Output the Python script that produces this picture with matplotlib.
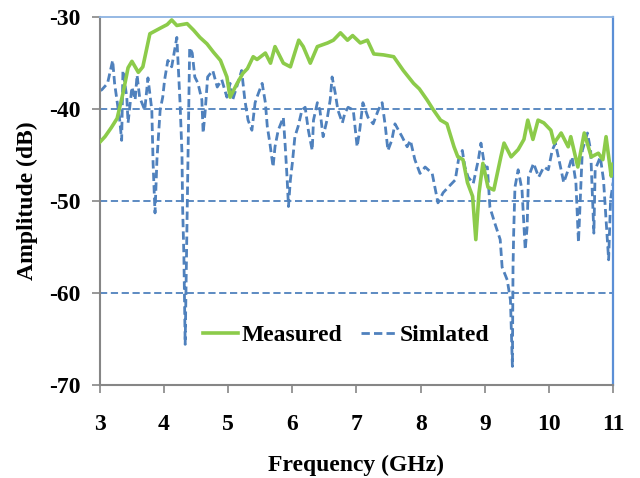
import matplotlib
matplotlib.use("Agg")
import matplotlib.pyplot as plt

# measured response (GHz, dB)
meas_f = [3.0, 3.08, 3.18, 3.27, 3.36, 3.44, 3.5, 3.6, 3.67, 3.78, 3.94, 4.05, 4.12,
          4.2, 4.36, 4.46, 4.56, 4.67, 4.77, 4.88, 4.98, 5.03, 5.14, 5.23, 5.3, 5.39,
          5.45, 5.58, 5.66, 5.73, 5.86, 5.97, 6.1, 6.17, 6.28, 6.39, 6.55, 6.64, 6.75,
          6.86, 6.94, 7.06, 7.17, 7.27, 7.42, 7.58, 7.73, 7.89, 7.98, 8.1, 8.2, 8.31,
          8.41, 8.52, 8.58, 8.66, 8.73, 8.81, 8.86, 8.91, 8.97, 9.05, 9.14, 9.25, 9.3,
          9.41, 9.52, 9.61, 9.67, 9.75, 9.83, 9.92, 10.03, 10.08, 10.19, 10.3, 10.34,
          10.45, 10.55, 10.66, 10.77, 10.84, 10.89, 10.97, 11.0]
meas_db = [-43.6, -43.0, -42.0, -41.0, -38.3, -35.5, -34.8, -36.0, -35.4, -31.8, -31.2,
           -30.8, -30.3, -30.9, -30.7, -31.4, -32.2, -32.9, -33.8, -34.7, -36.5, -38.7,
           -37.2, -36.1, -35.6, -34.3, -34.6, -33.9, -35.0, -33.2, -35.0, -35.4, -32.5,
           -33.2, -35.0, -33.2, -32.8, -32.5, -31.7, -32.5, -32.0, -32.8, -32.5, -34.0,
           -34.1, -34.3, -35.8, -37.2, -37.8, -39.0, -40.1, -41.2, -41.6, -44.1, -45.2,
           -45.5, -48.0, -49.5, -54.2, -49.1, -45.9, -48.5, -48.8, -45.2, -43.7, -45.2,
           -44.4, -43.3, -41.2, -43.3, -41.2, -41.5, -42.3, -43.7, -42.6, -44.1, -43.0,
           -46.3, -42.6, -45.2, -44.8, -45.5, -43.0, -47.3, -46.0]

# simulated response (GHz, dB)
sim_f = [3.0, 3.03, 3.12, 3.2, 3.23, 3.31, 3.34, 3.36, 3.42, 3.44, 3.5, 3.55, 3.58,
         3.62, 3.7, 3.75, 3.81, 3.83, 3.86, 3.89, 3.94, 3.98, 4.01, 4.06, 4.12, 4.2,
         4.22, 4.25, 4.28, 4.29, 4.31, 4.33, 4.36, 4.4, 4.44, 4.48, 4.53, 4.59, 4.61,
         4.64, 4.68, 4.76, 4.83, 4.9, 4.98, 5.03, 5.07, 5.15, 5.21, 5.26, 5.31, 5.37,
         5.42, 5.47, 5.53, 5.58, 5.61, 5.65, 5.7, 5.73, 5.78, 5.86, 5.89, 5.92, 5.94,
         5.97, 6.0, 6.04, 6.09, 6.15, 6.2, 6.25, 6.31, 6.33, 6.39, 6.43, 6.48, 6.54,
         6.59, 6.62, 6.67, 6.71, 6.78, 6.82, 6.87, 6.95, 7.01, 7.05, 7.1, 7.18, 7.26,
         7.34, 7.4, 7.45, 7.49, 7.55, 7.6, 7.71, 7.79, 7.84, 7.91, 7.99, 8.07, 8.18,
         8.23, 8.27, 8.35, 8.43, 8.54, 8.59, 8.65, 8.69, 8.74, 8.82, 8.9, 8.94, 9.0,
         9.04, 9.08, 9.16, 9.24, 9.27, 9.35, 9.4, 9.43, 9.44, 9.45, 9.47, 9.52, 9.58,
         9.63, 9.66, 9.68, 9.76, 9.84, 9.92, 9.99, 10.05, 10.1, 10.18, 10.23, 10.3,
         10.36, 10.42, 10.46, 10.52, 10.6, 10.65, 10.7, 10.72, 10.8, 10.85, 10.93,
         10.96, 11.0]
sim_db = [-38.0, -37.9, -37.2, -34.7, -37.2, -41.2, -43.4, -35.8, -38.7, -41.5, -37.6,
          -39.0, -36.3, -38.7, -40.1, -36.6, -40.1, -45.9, -51.3, -45.5, -40.1, -38.7,
          -36.8, -34.7, -35.4, -32.2, -35.0, -39.3, -44.8, -50.6, -56.0, -65.6, -52.0,
          -33.3, -33.9, -36.5, -37.2, -39.0, -42.6, -40.4, -36.5, -35.8, -37.6, -36.8,
          -38.7, -37.2, -39.0, -37.2, -35.8, -39.0, -41.2, -42.3, -39.3, -38.3, -37.2,
          -39.3, -41.9, -43.7, -46.3, -44.1, -42.3, -40.9, -44.1, -47.7, -50.6, -47.7,
          -45.9, -43.0, -41.9, -40.1, -39.8, -42.3, -44.5, -41.2, -39.3, -40.1, -43.0,
          -41.2, -39.0, -36.5, -38.3, -40.1, -41.5, -40.4, -39.8, -40.1, -44.1, -42.3,
          -39.3, -40.9, -41.6, -40.1, -39.3, -41.9, -44.5, -43.4, -41.6, -43.0, -44.1,
          -43.4, -45.5, -47.0, -46.3, -47.0, -48.8, -50.2, -49.1, -48.5, -47.7, -45.5,
          -44.5, -46.3, -47.4, -48.1, -45.5, -43.7, -46.3, -46.3, -50.7, -52.5, -54.2,
          -57.2, -58.6, -60.8, -68.0, -57.2, -53.5, -48.5, -46.6, -48.8, -55.3, -52.8,
          -47.4, -45.9, -47.4, -46.3, -46.6, -44.5, -43.7, -46.3, -48.0, -46.6, -45.2,
          -48.0, -54.5, -44.5, -42.6, -44.5, -53.5, -46.6, -45.2, -47.7, -56.4, -49.9,
          -48.0]

xticks = [3, 4, 5, 6, 7, 8, 9, 10, 11]
yticks = [-70, -60, -50, -40, -30]

plt.rcParams['font.family'] = 'Liberation Serif'

fig = plt.figure(figsize=(6.4, 4.78), dpi=100)
ax = fig.add_axes([0.156, 0.195, 0.802, 0.769])

for yv in [-40, -50, -60]:
    ax.axhline(yv, color='#4F81BD', lw=1.3, ls=(0, (4, 2)), zorder=1)

ax.plot(meas_f, meas_db, color='#8CCB4A', lw=2.6, label='Measured', zorder=3)
ax.plot(sim_f, sim_db, color='#4F81BD', lw=2.0, ls=(0, (3, 1.5)),
        label='Simlated', zorder=2)

ax.set_xlim(3, 11)
ax.set_ylim(-70, -30)
ax.set_xticks(xticks)
ax.set_yticks(yticks)
ax.set_xticklabels([str(t) for t in xticks], fontsize=17, fontweight='bold')
ax.set_yticklabels([str(t) for t in yticks], fontsize=17, fontweight='bold')
ax.tick_params(axis='x', direction='out', length=6, width=1.2, color='#868686', pad=15)
ax.tick_params(axis='y', direction='out', length=6, width=1.2, color='#868686', pad=8)

ax.spines['left'].set_color('#868686')
ax.spines['bottom'].set_color('#868686')
ax.spines['left'].set_linewidth(1.5)
ax.spines['bottom'].set_linewidth(1.5)
ax.spines['top'].set_color('#8DB3E2')
ax.spines['top'].set_linewidth(1.3)
ax.spines['right'].set_color('#5B8FD6')
ax.spines['right'].set_linewidth(1.6)

ax.set_xlabel('Frequency (GHz)', fontsize=17, fontweight='bold', labelpad=14)
ax.set_ylabel('Amplitude (dB)', fontsize=17, fontweight='bold', labelpad=8)

ax.legend(loc='center', bbox_to_anchor=(0.48, 0.135), ncol=2, frameon=False,
          prop={'size': 17, 'weight': 'bold'}, handlelength=1.5,
          handletextpad=0.15, columnspacing=0.8)

fig.savefig('out.png', dpi=100)
